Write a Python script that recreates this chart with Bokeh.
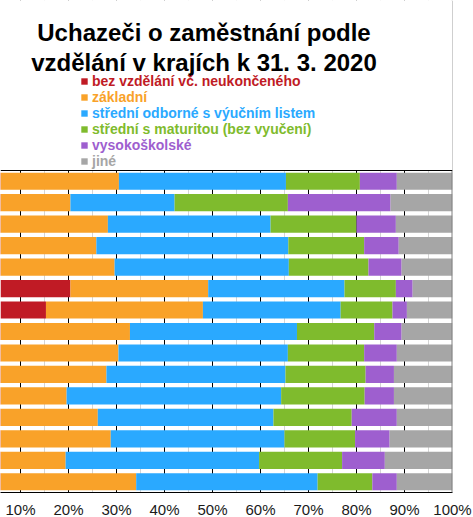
from bokeh.plotting import figure, ColumnDataSource
from bokeh.models import (Range1d, FixedTicker, PrintfTickFormatter,
                          Legend, LegendItem, Label, Span, BoxAnnotation)
from bokeh.embed import file_html
from bokeh.resources import INLINE

# ---------------- data (shares in %) ----------------
regions = ["Česká republika", "Hlavní město Praha", "Středočeský", "Jihočeský",
           "Plzeňský", "Karlovarský", "Ústecký", "Liberecký", "Královéhradecký",
           "Pardubický", "Vysočina", "Jihomoravský", "Olomoucký", "Zlínský",
           "Moravskoslezský"]

series_names = ["bez vzdělání vč. neukončeného", "základní",
                "střední odborné s výučním listem", "střední s maturitou (bez vyučení)",
                "vysokoškolské", "jiné"]

bez_vzdelani = [4.5, 3.0, 3.5, 2.5, 3.0, 20.4, 15.3, 4.0, 2.5, 2.5, 1.5, 3.0, 3.5, 1.5, 5.0]
zakladni = [26.0, 17.4, 24.7, 23.3, 26.6, 28.7, 32.7, 28.8, 27.9, 25.4, 18.1, 23.1, 25.3, 17.9, 29.1]
vyucni_list = [34.8, 21.7, 33.9, 40.0, 36.3, 28.4, 28.7, 34.8, 35.3, 37.3, 44.7, 36.6, 36.2, 40.3, 37.8]
maturita = [15.4, 23.6, 17.9, 15.8, 16.6, 10.7, 10.8, 16.1, 15.9, 16.7, 17.4, 16.3, 14.7, 17.3, 11.4]
vysokoskolske = [7.7, 21.4, 8.2, 7.2, 6.9, 3.5, 3.0, 5.7, 6.8, 5.9, 6.1, 9.4, 7.2, 8.9, 5.1]
jine = [11.6, 12.9, 11.8, 11.2, 10.6, 8.3, 9.5, 10.6, 11.6, 12.2, 12.2, 11.6, 13.1, 14.1, 11.6]

tick_values = [10, 20, 30, 40, 50, 60, 70, 80, 90, 100]
minor_tick_values = [5, 15, 25, 35, 45, 55, 65, 75, 85, 95]

title_lines = ["Uchazeči o zaměstnání podle", "vzdělání v krajích k 31. 3. 2020"]

colors = ["#c01b25", "#f9a229", "#2aa9ff", "#7fbb2d", "#9e5fcf", "#a6a6a6"]
keys = ["bez", "zakl", "vyuc", "mat", "vs", "jine"]

n = len(regions)
# row positions: first region at the top
row_pos = [n - i - 0.5 for i in range(n)]

source = ColumnDataSource(dict(region=regions, pos=row_pos, bez=bez_vzdelani,
                               zakl=zakladni, vyuc=vyucni_list, mat=maturita,
                               vs=vysokoskolske, jine=jine))

FONT = "Liberation Sans"

FRAME_W, FRAME_H = 452, 492      # frame covers header + bars
BARS_H = 322                     # pixel height of the bar area
y_top = n * FRAME_H / BARS_H

p = figure(x_range=Range1d(5.83, 100), y_range=Range1d(0, y_top),
           frame_width=FRAME_W, frame_height=FRAME_H,
           min_border_top=0, min_border_left=0, min_border_right=21,
           min_border_bottom=25,
           output_backend="svg", toolbar_location=None)

renderers = p.hbar_stack(keys, y="pos", height=0.8, color=colors,
                         line_color=None, source=source)

p.outline_line_color = None
p.yaxis.visible = False
p.ygrid.visible = False

ticker = FixedTicker(ticks=tick_values, minor_ticks=minor_tick_values)
p.xaxis.ticker = ticker
p.xgrid.ticker = ticker
p.xaxis.formatter = PrintfTickFormatter(format="%d%%")
p.xaxis.major_tick_line_color = None
p.xaxis.minor_tick_line_color = None
p.xaxis.major_tick_out = 0
p.xaxis.major_tick_in = 0
p.xaxis.minor_tick_out = 0
p.xaxis.minor_tick_in = 0
p.xaxis.major_label_standoff = 8
p.xaxis.major_label_text_font = FONT
p.xaxis.major_label_text_font_size = "15px"
p.xaxis.major_label_text_color = "#1a1a1a"
p.xaxis.axis_line_color = "black"
p.xgrid.grid_line_color = "black"
p.xgrid.minor_grid_line_color = "#d4d4d4"

# right border (gray), white header area above the bars, top border (black)
p.add_layout(Span(location=100, dimension="height", line_color="#808080", line_width=2))
p.add_layout(BoxAnnotation(bottom=n, fill_color="white", fill_alpha=1, line_color=None))
p.add_layout(Span(location=n, dimension="width", line_color="black", line_width=1))

# title (screen units relative to the frame's bottom-left corner)
for i, line in enumerate(title_lines):
    p.add_layout(Label(x=203.5, y=FRAME_H - (31.7 + 30 * i),
                       x_units="screen", y_units="screen", text=line,
                       text_align="center", text_baseline="alphabetic",
                       text_font=FONT, text_font_style="bold",
                       text_font_size="24px", text_color="black"))

# legend: one legend per series so each label gets its own colour
for i, (name, r, c) in enumerate(zip(series_names, renderers, colors)):
    top_page = 72.7 + 16.15 * i
    leg = Legend(items=[LegendItem(label=name, renderers=[r])],
                 location=(80, FRAME_H - 16 - top_page),
                 padding=0, margin=0, spacing=0,
                 glyph_width=8, glyph_height=8, label_height=16,
                 label_standoff=4,
                 label_text_font=FONT, label_text_font_style="bold",
                 label_text_font_size="14px", label_text_color=c,
                 label_text_baseline="alphabetic",
                 border_line_color=None, background_fill_alpha=0)
    p.add_layout(leg)

open("out.html", "w").write(file_html(p, INLINE))
